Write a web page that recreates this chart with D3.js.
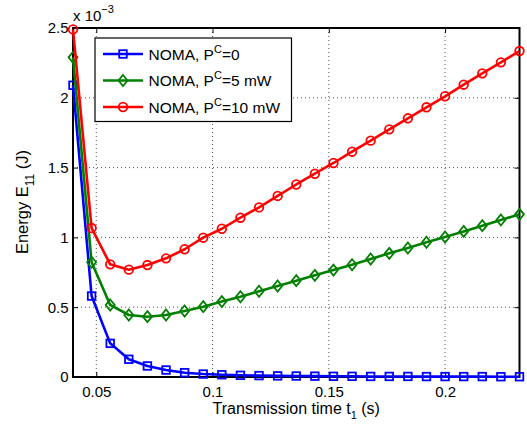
<!DOCTYPE html>
<html>
<head>
<meta charset="utf-8">
<script src="https://cdn.jsdelivr.net/npm/d3@7"></script>
<style>
  html, body { margin: 0; padding: 0; background: #fff; }
  svg { display: block; font-family: "Liberation Sans", Arial, sans-serif; }
</style>
</head>
<body>
<svg id="chart" width="527" height="426"></svg>
<script>
// Transmission time t1 (s)
const tValues = [0.040, 0.048, 0.056, 0.064, 0.072, 0.080, 0.088, 0.096, 0.104, 0.112,
                 0.120, 0.128, 0.136, 0.144, 0.152, 0.160, 0.168, 0.176, 0.184, 0.192,
                 0.200, 0.208, 0.216, 0.224, 0.232];

// Energy E11 in units of 1e-3 J
const energyPc0 = [2.09, 0.580, 0.241, 0.127, 0.079, 0.050, 0.031, 0.021, 0.016, 0.012,
                   0.010, 0.008, 0.007, 0.006, 0.005, 0.005, 0.004, 0.004, 0.004, 0.003,
                   0.003, 0.003, 0.003, 0.002, 0.002];
const energyPc5 = [2.29, 0.822, 0.516, 0.444, 0.432, 0.444, 0.473, 0.504, 0.540, 0.575,
                   0.614, 0.652, 0.690, 0.728, 0.766, 0.804, 0.845, 0.886, 0.924, 0.965,
                   1.003, 1.043, 1.084, 1.125, 1.165];
const energyPc10 = [2.49, 1.067, 0.807, 0.769, 0.802, 0.850, 0.915, 0.998, 1.062, 1.141,
                    1.215, 1.297, 1.379, 1.456, 1.533, 1.614, 1.693, 1.774, 1.853, 1.932,
                    2.011, 2.094, 2.175, 2.254, 2.335];

const xTicks = [0.05, 0.1, 0.15, 0.2];
const xTickLabels = ["0.05", "0.1", "0.15", "0.2"];
const yTicks = [0, 0.5, 1, 1.5, 2, 2.5];
const yTickLabels = ["0", "0.5", "1", "1.5", "2", "2.5"];

const seriesNames = ["NOMA, P", "NOMA, P", "NOMA, P"];
const seriesSup = ["C", "C", "C"];
const seriesTail = ["=0", "=5 mW", "=10 mW"];
const seriesColors = ["#0000ff", "#008000", "#ff0000"];
const seriesMarkers = ["square", "diamond", "circle"];
const seriesData = [energyPc0, energyPc5, energyPc10];

const svg = d3.select("#chart");
const plot = { left: 73, top: 28, right: 519.5, bottom: 377 };

const x = d3.scaleLinear().domain([0.04, 0.232]).range([plot.left, plot.right]);
const y = d3.scaleLinear().domain([0, 2.5]).range([plot.bottom, plot.top]);

// grid lines (dotted)
const grid = svg.append("g").attr("stroke", "#555").attr("stroke-width", 1)
  .attr("stroke-dasharray", "1,3").attr("fill", "none");
xTicks.forEach(t => {
  grid.append("line").attr("x1", x(t)).attr("x2", x(t))
    .attr("y1", plot.top).attr("y2", plot.bottom);
});
yTicks.slice(1, -1).forEach(t => {
  grid.append("line").attr("x1", plot.left).attr("x2", plot.right)
    .attr("y1", y(t)).attr("y2", y(t));
});

// axes with inward ticks on all four sides
const tickLen = 5;
const axisBottom = d3.axisBottom(x).tickValues(xTicks).tickSizeInner(-tickLen).tickSizeOuter(0)
  .tickPadding(9).tickFormat((d, i) => xTickLabels[i]);
const axisTop = d3.axisTop(x).tickValues(xTicks).tickSizeInner(-tickLen).tickSizeOuter(0)
  .tickFormat("");
const axisLeft = d3.axisLeft(y).tickValues(yTicks).tickSizeInner(-tickLen).tickSizeOuter(0)
  .tickPadding(4.5).tickFormat((d, i) => yTickLabels[i]);
const axisRight = d3.axisRight(y).tickValues(yTicks).tickSizeInner(-tickLen).tickSizeOuter(0)
  .tickFormat("");

function styleAxis(g) {
  g.select(".domain").remove();
  g.selectAll(".tick line").attr("stroke", "#000").attr("stroke-width", 1);
  g.selectAll(".tick text").attr("fill", "#000").style("font-size", "15px")
    .style("font-family", "'Liberation Sans', Arial, sans-serif");
}
svg.append("g").attr("transform", `translate(0,${plot.bottom})`).call(axisBottom).call(styleAxis);
svg.append("g").attr("transform", `translate(0,${plot.top})`).call(axisTop).call(styleAxis);
svg.append("g").attr("transform", `translate(${plot.left},0)`).call(axisLeft).call(styleAxis);
svg.append("g").attr("transform", `translate(${plot.right},0)`).call(axisRight).call(styleAxis);

// axes box
svg.append("rect").attr("x", plot.left).attr("y", plot.top)
  .attr("width", plot.right - plot.left).attr("height", plot.bottom - plot.top)
  .attr("fill", "none").attr("stroke", "#000").attr("stroke-width", 2);

// exponent label
const expo = svg.append("text").attr("x", plot.left).attr("y", 21)
  .style("font-size", "15px").attr("fill", "#000");
expo.append("tspan").text("x 10");
expo.append("tspan").attr("dy", -8).style("font-size", "11px").text("\u22123");

// marker drawing
function drawMarker(g, type, cx, cy, color) {
  if (type === "square") {
    g.append("rect").attr("x", cx - 3.8).attr("y", cy - 3.8).attr("width", 7.6).attr("height", 7.6)
      .attr("fill", "none").attr("stroke", color).attr("stroke-width", 1.8);
  } else if (type === "diamond") {
    g.append("path").attr("d", `M${cx},${cy - 5.5}L${cx + 4.5},${cy}L${cx},${cy + 5.5}L${cx - 4.5},${cy}Z`)
      .attr("fill", "none").attr("stroke", color).attr("stroke-width", 1.8);
  } else {
    g.append("circle").attr("cx", cx).attr("cy", cy).attr("r", 4.3)
      .attr("fill", "none").attr("stroke", color).attr("stroke-width", 1.8);
  }
}

// series lines and markers
const line = d3.line().x((d, i) => x(tValues[i])).y(d => y(d));
seriesData.forEach((vals, s) => {
  const g = svg.append("g");
  g.append("path").datum(vals).attr("d", line).attr("fill", "none")
    .attr("stroke", seriesColors[s]).attr("stroke-width", 2.6).attr("stroke-linejoin", "round");
  vals.forEach((v, i) => drawMarker(g, seriesMarkers[s], x(tValues[i]), y(v), seriesColors[s]));
});

// legend
const legend = svg.append("g");
legend.append("rect").attr("x", 95).attr("y", 38).attr("width", 196.5).attr("height", 83.5)
  .attr("fill", "#fff").attr("stroke", "#000").attr("stroke-width", 1.2);
const rowY = [54, 80.5, 107];
seriesData.forEach((vals, s) => {
  const ry = rowY[s];
  legend.append("line").attr("x1", 103).attr("x2", 143).attr("y1", ry).attr("y2", ry)
    .attr("stroke", seriesColors[s]).attr("stroke-width", 2.6);
  drawMarker(legend, seriesMarkers[s], 123, ry, seriesColors[s]);
  const t = legend.append("text").attr("x", 148.5).attr("y", ry + 5.5)
    .style("font-size", "15.5px").attr("fill", "#000");
  t.append("tspan").text(seriesNames[s]);
  t.append("tspan").attr("dy", -7).style("font-size", "11px").text(seriesSup[s]);
  t.append("tspan").attr("dy", 7).text(seriesTail[s]);
});

// axis titles
const xl = svg.append("text").attr("x", (plot.left + plot.right) / 2).attr("y", 414)
  .attr("text-anchor", "middle").style("font-size", "16px").attr("fill", "#000");
xl.append("tspan").text("Transmission time t");
xl.append("tspan").attr("dy", 5).style("font-size", "11px").text("1");
xl.append("tspan").attr("dy", -5).text(" (s)");

const yl = svg.append("text").attr("transform", "translate(28,202) rotate(-90)")
  .attr("text-anchor", "middle").style("font-size", "16.5px").attr("fill", "#000");
yl.append("tspan").text("Energy E");
yl.append("tspan").attr("dy", 6).style("font-size", "12px").text("11");
yl.append("tspan").attr("dy", -6).text(" (J)");
</script>
</body>
</html>
